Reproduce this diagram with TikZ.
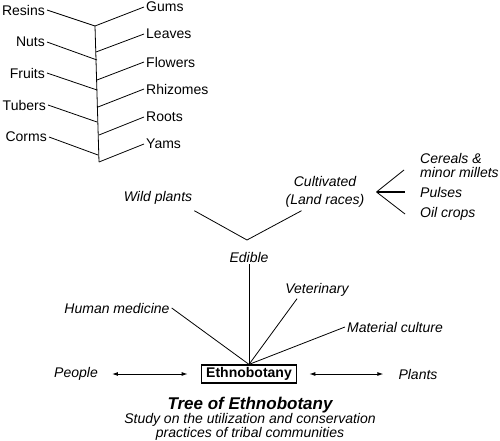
\documentclass[tikz,border=0pt]{standalone}
\usepackage{fontspec}
\setmainfont{Liberation Sans}
\usetikzlibrary{arrows.meta}
\begin{document}
\begin{tikzpicture}[x=1pt,y=-1pt,
                every node/.style={font=\fontsize{14}{14}\selectfont, inner sep=2pt},
                lbl/.style={font=\fontsize{14}{14}\selectfont\itshape},
                twig/.style={line width=0.8pt},
                link/.style={line width=0.9pt, {Latex[length=6pt,width=4pt]}-{Latex[length=6pt,width=4pt]}, shorten <=12pt, shorten >=13pt}]
                \useasboundingbox (0,0) rectangle (500,441);
                \coordinate (stemtop) at (95,26);
                \coordinate (stembot) at (99,162);
                \draw[twig] (stemtop) -- (stembot);
                \foreach \name/\txt/\x/\y/\sx/\sy in {resins/Resins/47/10/95/26, nuts/Nuts/47/42/97/60, fruits/Fruits/47/73/97/90, tubers/Tubers/48/105/97/122, corms/Corms/49/137/98/155}
                {
                \node[anchor=east] (\name) at (\x,\y) {\txt};
                \coordinate (s\name) at (\sx,\sy);
                \draw[twig] (\name.east) -- (s\name);
                }
                \foreach \name/\txt/\y/\sx/\sy in {gums/Gums/7/95/26, leaves/Leaves/34/96/52, flowers/Flowers/62/97/80, rhizomes/Rhizomes/89/98/107, roots/Roots/117/99/135, yams/Yams/144/99/162}
                {
                \node[anchor=west] (\name) at (144,\y) {\txt};
                \coordinate (s\name) at (\sx,\sy);
                \draw[twig] (s\name) -- (\name.west);
                }
                \node[lbl] (wild) at (158,198) {Wild plants};
                \node[lbl, align=center, font=\fontsize{14}{18}\selectfont\itshape] (cult) at (325,192) {Cultivated\\(Land races)};
                \node[lbl] (edible) at (249,257) {Edible};
                \coordinate (fork) at (247,240);
                \draw[twig] ([yshift=-4pt]wild.south east) -- (fork) -- ([xshift=18pt,yshift=-1pt]cult.south west);
                \coordinate (brk) at ([xshift=10pt]cult.east);
                \node[lbl, anchor=west, align=left] (cereals) at (418,165) {Cereals \&\\minor millets};
                \node[lbl, anchor=west] (pulses) at (418,192) {Pulses};
                \node[lbl, anchor=west] (oil) at (418,214) {Oil crops};
                \draw[twig] (brk) -- ([xshift=-14pt,yshift=-5pt]cereals.west);
                \draw[line width=1.8pt] (brk) -- ([xshift=-13pt]pulses.west);
                \draw[twig] (brk) -- ([xshift=-13pt]oil.west);
                \node[draw, line width=1.2pt, font=\fontsize{14}{14}\selectfont\bfseries, inner xsep=5pt, inner ysep=2.5pt, text height=10pt, text depth=3pt] (ethno) at (249,374) {Ethnobotany};
                \draw[twig] (edible.south) -- (ethno.north);
                \node[lbl] (human) at (117,308) {Human medicine};
                \node[lbl] (vet) at (317,290) {Veterinary};
                \node[lbl] (mat) at (395,327) {Material culture};
                \draw[twig] (human.east) -- (ethno.north);
                \draw[twig] ([xshift=-20pt]vet.south) -- (ethno.north);
                \draw[twig] (mat.west) -- (ethno.north);
                \node[lbl] (people) at (76,374) {People};
                \node[lbl] (plants) at (418,374) {Plants};
                \draw[link] (people) -- (ethno);
                \draw[link] (ethno) -- (plants);
                \node[font=\fontsize{17}{17}\selectfont\bfseries\itshape] (title) at (250,405) {Tree of Ethnobotany};
                \node[lbl, align=center] (study) at (250,427) {Study on the utilization and conservation\\practices of tribal communities};
            \end{tikzpicture}
\end{document}
